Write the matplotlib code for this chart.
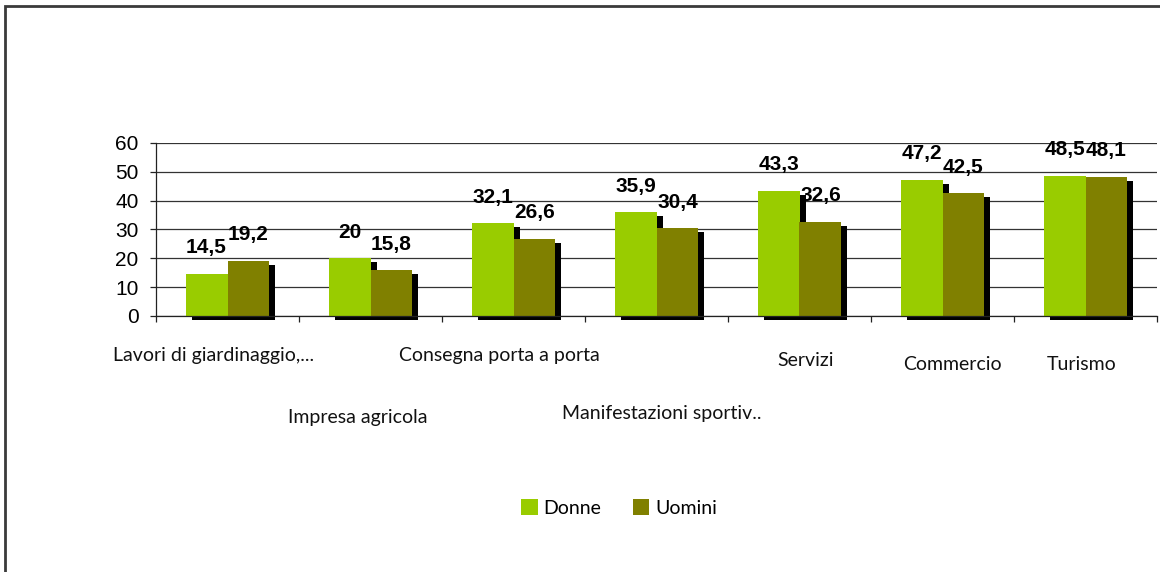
import numpy as np
import matplotlib
matplotlib.use("Agg")
import matplotlib.pyplot as plt
from matplotlib import transforms
from matplotlib.patches import Rectangle

#---------------------------------------------------------------------------------------------
# Data
categories = ["Lavori di giardinaggio,...", "Impresa agricola", "Consegna porta a porta",
              "Manifestazioni sportiv..", "Servizi", "Commercio", "Turismo"]
donne = [14.5, 20, 32.1, 35.9, 43.3, 47.2, 48.5]
uomini = [19.2, 15.8, 26.6, 30.4, 32.6, 42.5, 48.1]
yticks = [0, 10, 20, 30, 40, 50, 60]

# where the staggered category labels sit (pixel offset from category centre, pixel y)
lab_dx = [-14, -12.5, -14.5, 5.5, 6.5, 9.5, -3.5]
lab_y = [355, 417, 355, 413, 361, 365, 365]

green = "#99CC00"
olive = "#808000"

#---------------------------------------------------------------------------------------------
# Figure
W, H = 1160, 572
fig = plt.figure(figsize=(W / 100, H / 100), dpi=100)
ax = fig.add_axes([156 / W, 1 - 316 / H, (1157 - 156) / W, (316 - 143) / H])

x = np.arange(len(categories))
w = 0.293

# shadow, shifted right and down by a few pixels
shadow = transforms.offset_copy(ax.transData, fig=fig, x=6, y=-4, units="dots")
ax.bar(x - w / 2, donne, w, color="black", transform=shadow, zorder=1, clip_on=False)
ax.bar(x + w / 2, uomini, w, color="black", transform=shadow, zorder=1, clip_on=False)

b1 = ax.bar(x - w / 2, donne, w, color=green, zorder=2, label="Donne")
b2 = ax.bar(x + w / 2, uomini, w, color=olive, zorder=2, label="Uomini")

def fmt(v):
    s = ("%.1f" % v).replace(".", ",")
    return s[:-2] if s.endswith(",0") else s

for xs, vals in ((x - w / 2, donne), (x + w / 2, uomini)):
    for xi, v in zip(xs, vals):
        ax.annotate(fmt(v), xy=(xi, v), xytext=(0, 15), textcoords="offset points",
                    ha="center", va="baseline", fontsize=15, fontweight="bold",
                    family="Liberation Sans", zorder=5)

ax.set_xlim(-0.5, len(categories) - 0.5)
ax.set_ylim(0, 60)
ax.set_yticks(yticks)
ax.set_yticklabels([str(t) for t in yticks], fontsize=15, family="Liberation Sans")
ax.set_xticks(np.arange(len(categories) + 1) - 0.5)
ax.set_xticklabels([])
ax.tick_params(axis="y", length=4.5, width=0.9, pad=8, color="#222222")
ax.tick_params(axis="x", length=4.5, width=0.9, color="#222222")
ax.grid(axis="y", color="#333333", lw=0.9)
ax.set_axisbelow(True)
for s in ["top", "right"]:
    ax.spines[s].set_visible(False)
for s in ["left", "bottom"]:
    ax.spines[s].set_color("#222222")
    ax.spines[s].set_linewidth(0.9)

# category labels, staggered like the original
for i, name in enumerate(categories):
    cx = ax.transData.transform((x[i], 0))[0] + lab_dx[i]
    fig.text(cx / W, 1 - lab_y[i] / H, name, ha="center", va="center",
             fontsize=14, family="Lato", color="#111111")

leg = fig.legend(handles=[b1, b2], loc="center", bbox_to_anchor=(619 / W, 1 - 508 / H),
                 ncol=2, frameon=False, fontsize=14, handlelength=0.85, handleheight=0.85,
                 handletextpad=0.3, columnspacing=1.6, prop={"family": "Lato", "size": 14})

# outer frame (only left and top edges are visible in the crop)
fig.add_artist(Rectangle((5 / W, -0.1), 1.2, 1.1 - 6 / H, transform=fig.transFigure,
                         fill=False, lw=2, edgecolor="#3a3a3a"))

fig.savefig("out.png", dpi=100)
